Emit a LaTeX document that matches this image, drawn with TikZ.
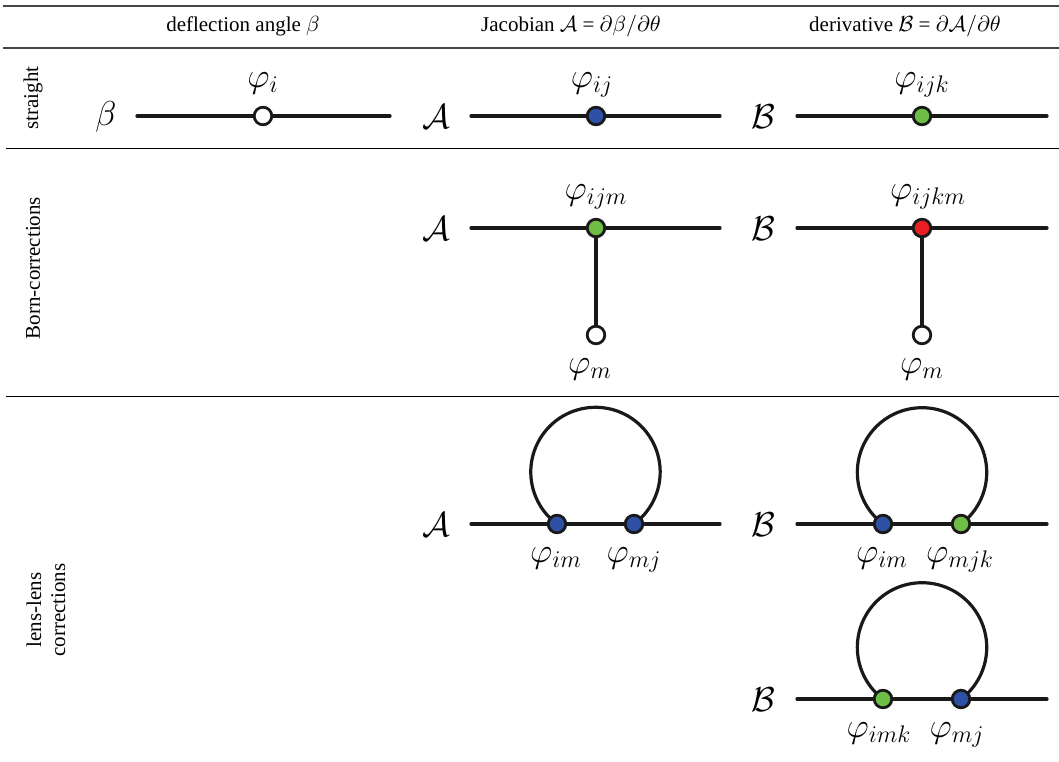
\documentclass[tikz,border=0pt]{standalone}
\usepackage{fontspec}
\setmainfont{Liberation Serif}
\usetikzlibrary{backgrounds}
\definecolor{vblue}{RGB}{46,80,165}
\definecolor{vgreen}{RGB}{110,190,70}
\definecolor{vred}{RGB}{235,30,35}
\definecolor{rulegray}{RGB}{70,70,70}
\tikzset{
  wire/.style={line width=1.6pt, black!90, line cap=round},
  vtx/.style={circle, draw=black!90, line width=1.4pt, minimum size=8.8pt, inner sep=0pt},
  lbl/.style={font=\fontsize{18.5}{22}\selectfont, anchor=base, inner sep=0pt},
  big/.style={font=\fontsize{18}{22}\selectfont, anchor=base, inner sep=0pt},
  hdr/.style={font=\fontsize{10.5}{12}\selectfont, inner sep=0pt},
  thickrule/.style={line width=1.1pt, rulegray},
  thinrule/.style={line width=0.5pt, black},
}
\begin{document}
\begin{tikzpicture}[x=0.5pt,y=-0.5pt]
\useasboundingbox (0,0) rectangle (1059,761);
% rules
\coordinate (r0l) at (3,6);   \coordinate (r0r) at (1059,6);
\coordinate (r1l) at (3,48);  \coordinate (r1r) at (1059,48);
\coordinate (r2l) at (6,148); \coordinate (r2r) at (1059,148);
\coordinate (r3l) at (6,396); \coordinate (r3r) at (1059,396);
\draw[thickrule] (r0l) -- (r0r);
\draw[thickrule] (r1l) -- (r1r);
\draw[thinrule] (r2l) -- (r2r);
\draw[thinrule] (r3l) -- (r3r);
% headers
\node[hdr] (h1) at (243,26) {deflection angle $\beta$};
\node[hdr] (h2) at (571,26) {Jacobian $\mathcal{A}$ = $\partial\beta/\partial\theta$};
\node[hdr] (h3) at (905,26) {derivative $\mathcal{B}$ = $\partial\mathcal{A}/\partial\theta$};
% row labels
\node[hdr, rotate=90] (rl1) at (33,98) {straight};
\node[hdr, rotate=90] (rl2) at (33,268) {Born-corrections};
\node[hdr, rotate=90, align=center] (rl3) at (46,610) {lens-lens\\corrections};

% ---------- row 1 ----------
\node[big] (b1) at (106,125) {$\beta$};
\coordinate (w1l) at (137,116); \coordinate (w1r) at (390,116);
\node[vtx, fill=white] (v1) at (263,116) {};
\node[lbl] (t1) at (263,87) {$\varphi_i$};

\node[big] (a1) at (436,128) {$\mathcal{A}$};
\coordinate (w2l) at (471,116); \coordinate (w2r) at (720,116);
\node[vtx, fill=vblue] (v2) at (596,116) {};
\node[lbl] (t2) at (592,87) {$\varphi_{ij}$};

\node[big] (c1) at (763,128) {$\mathcal{B}$};
\coordinate (w3l) at (797,116); \coordinate (w3r) at (1047,116);
\node[vtx, fill=vgreen] (v3) at (922,116) {};
\node[lbl] (t3) at (922,87) {$\varphi_{ijk}$};

% ---------- row 2 ----------
\node[big] (a2) at (436,240) {$\mathcal{A}$};
\coordinate (w4l) at (471,228); \coordinate (w4r) at (720,228);
\node[vtx, fill=vgreen] (v4) at (596,228) {};
\node[vtx, fill=white] (v4m) at (596,335) {};
\node[lbl] (t4) at (596,199) {$\varphi_{ijm}$};
\node[lbl] (t4m) at (590,373) {$\varphi_{m}$};

\node[big] (c2) at (763,240) {$\mathcal{B}$};
\coordinate (w5l) at (797,228); \coordinate (w5r) at (1047,228);
\node[vtx, fill=vred] (v5) at (922,228) {};
\node[vtx, fill=white] (v5m) at (922,335) {};
\node[lbl] (t5) at (928,199) {$\varphi_{ijkm}$};
\node[lbl] (t5m) at (922,373) {$\varphi_{m}$};

% ---------- row 3a ----------
\node[big] (a3) at (436,536) {$\mathcal{A}$};
\coordinate (w6l) at (471,524); \coordinate (w6r) at (720,524);
\node[vtx, fill=vblue] (v6a) at (557,524) {};
\node[vtx, fill=vblue] (v6b) at (634,524) {};
\node[lbl] (t6a) at (556,562) {$\varphi_{im}$};
\node[lbl] (t6b) at (634,562) {$\varphi_{mj}$};

\node[big] (c3) at (763,536) {$\mathcal{B}$};
\coordinate (w7l) at (797,524); \coordinate (w7r) at (1047,524);
\node[vtx, fill=vblue] (v7a) at (883,524) {};
\node[vtx, fill=vgreen] (v7b) at (961,524) {};
\node[lbl] (t7a) at (882,562) {$\varphi_{im}$};
\node[lbl] (t7b) at (960,562) {$\varphi_{mjk}$};

% ---------- row 3b ----------
\node[big] (c4) at (763,711) {$\mathcal{B}$};
\coordinate (w8l) at (797,699); \coordinate (w8r) at (1047,699);
\node[vtx, fill=vgreen] (v8a) at (883,699) {};
\node[vtx, fill=vblue] (v8b) at (961,699) {};
\node[lbl] (t8a) at (879,737) {$\varphi_{imk}$};
\node[lbl] (t8b) at (957,737) {$\varphi_{mj}$};

% wires on background
\begin{scope}[on background layer]
\draw[wire] (w1l) -- (v1.center) -- (w1r);
\draw[wire] (w2l) -- (v2.center) -- (w2r);
\draw[wire] (w3l) -- (v3.center) -- (w3r);
\draw[wire] (w4l) -- (v4.center) -- (w4r);
\draw[wire] (v4.center) -- (v4m.center);
\draw[wire] (w5l) -- (v5.center) -- (w5r);
\draw[wire] (v5.center) -- (v5m.center);
\draw[wire] (w6l) -- (v6a.center) -- (v6b.center) -- (w6r);
\draw[wire] (v6a.center) arc[start angle=126.5, end angle=413.5, radius=64.7];
\draw[wire] (w7l) -- (v7a.center) -- (v7b.center) -- (w7r);
\draw[wire] (v7a.center) arc[start angle=127.1, end angle=412.9, radius=64.7];
\draw[wire] (w8l) -- (v8a.center) -- (v8b.center) -- (w8r);
\draw[wire] (v8a.center) arc[start angle=127.1, end angle=412.9, radius=64.7];
\end{scope}
\end{tikzpicture}
\end{document}
